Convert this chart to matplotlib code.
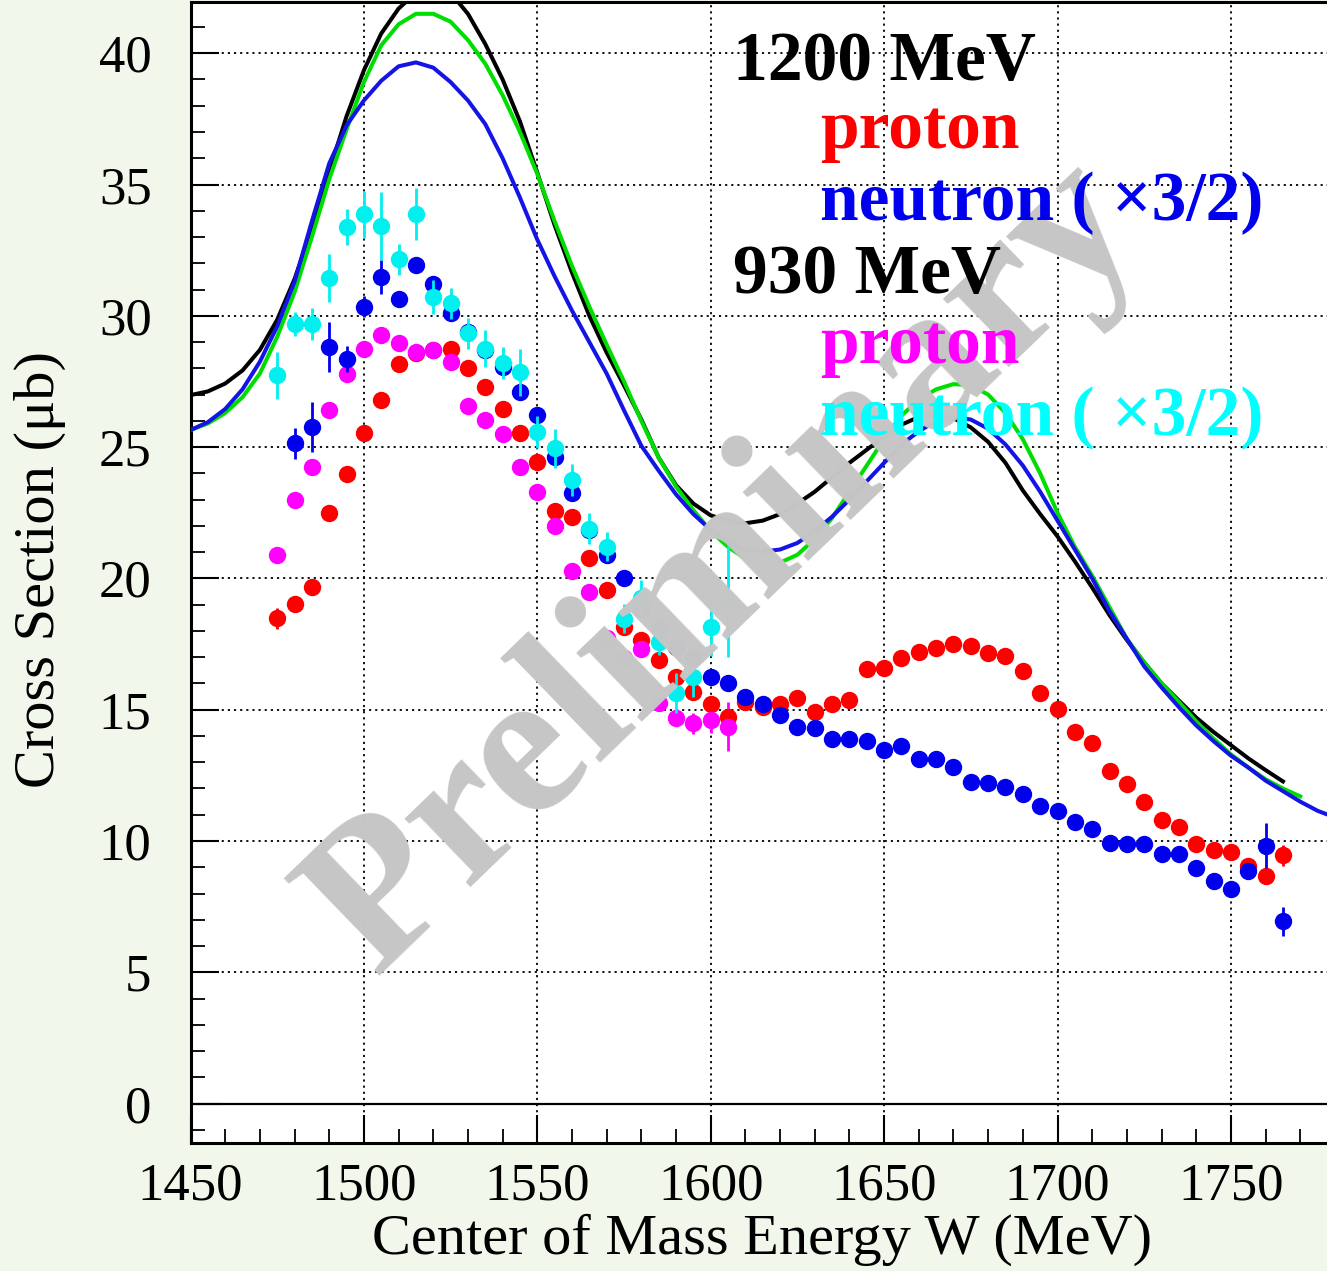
import matplotlib.pyplot as plt
import numpy as np

# ---- model curves (5 MeV steps starting at 1450 MeV) ----
curve_black = [26.98, 27.12, 27.42, 27.92, 28.7, 29.85, 31.4, 33.3, 35.5, 37.6,
               39.35, 40.75, 41.7, 42.3, 42.5, 42.3, 41.5, 40.35, 39.0, 37.4,
               35.45, 33.45, 31.65, 30.0, 28.6, 27.35, 26.05, 24.6, 23.55, 22.85,
               22.4, 22.2, 22.1, 22.2, 22.45, 22.85, 23.3, 23.85, 24.4, 24.9,
               25.4, 25.85, 26.15, 26.25, 26.1, 25.75, 25.2, 24.4, 23.35, 22.45,
               21.6, 20.65, 19.65, 18.6, 17.65, 16.8, 16.0, 15.35, 14.7, 14.15,
               13.65, 13.15, 12.7, 12.27]
curve_green = [25.65, 25.9, 26.3, 26.9, 27.8, 29.2, 30.9, 33.0, 35.2, 37.1,
               38.9, 40.3, 41.1, 41.5, 41.5, 41.2, 40.5, 39.6, 38.4, 37.0,
               35.4, 33.6, 31.9, 30.35, 28.9, 27.5, 26.0, 24.6, 23.5, 22.6,
               21.8, 21.2, 20.75, 20.6, 20.6, 20.9, 21.5, 22.3, 23.3, 24.3,
               25.3, 26.2, 26.8, 27.2, 27.4, 27.35, 27.0, 26.3, 25.3, 24.0,
               22.5, 21.2, 20.1, 18.9, 17.7, 16.8, 16.0, 15.3, 14.55, 13.9,
               13.3, 12.8, 12.35, 12.0, 11.7]
curve_blue = [25.65, 25.95, 26.45, 27.2, 28.25, 29.6, 31.3, 33.6, 35.8, 37.25,
              38.2, 38.95, 39.5, 39.65, 39.45, 38.9, 38.2, 37.3, 36.0, 34.5,
              32.9, 31.5, 30.2, 29.0, 27.8, 26.4, 25.05, 24.1, 23.2, 22.45,
              21.85, 21.4, 21.1, 21.02, 21.1, 21.35, 21.8, 22.35, 23.0, 23.7,
              24.4, 25.1, 25.6, 26.0, 26.15, 26.05, 25.7, 25.1, 24.3, 23.3,
              22.2, 21.1, 20.0, 18.75, 17.7, 16.65, 15.85, 15.1, 14.4, 13.8,
              13.25, 12.8, 12.3, 11.9, 11.5, 11.15, 10.9]

# ---- data points ----
# 1200 MeV proton (red), W from 1475
p1200 = [18.48, 19.03, 19.68, 22.48, 23.97, 25.55, 26.81, 28.15, 28.6, 28.7,
         28.73, 28.03, 27.27, 26.47, 25.52, 24.44, 22.56, 22.32, 20.76, 19.56,
         18.16, 17.66, 16.89, 16.26, 15.69, 15.22, 14.74, 15.3, 15.12, 15.22,
         15.46, 14.93, 15.22, 15.37, 16.55, 16.58, 16.97, 17.21, 17.35, 17.49,
         17.44, 17.15, 17.05, 16.49, 15.65, 15.02, 14.17, 13.75, 12.68, 12.16,
         11.47, 10.81, 10.53, 9.88, 9.67, 9.6, 9.03, 8.68, 9.45]
p1200_err = [0.4, 0.3, 0.25] + [0.15] * 55 + [0.4]

# 1200 MeV neutron x3/2 (blue), W from 1480
n1200 = [25.14, 25.77, 28.82, 28.35, 30.34, 31.48, 30.63, 31.93, 31.23, 30.09,
         29.4, 28.69, 28.06, 27.1, 26.22, 24.63, 23.24, 21.85, 20.89, 20.0,
         18.86, 18.1, 17.4, 17.02, 16.26, 16.01, 15.5, 15.21, 14.8, 14.33,
         14.3, 13.88, 13.88, 13.79, 13.47, 13.6, 13.13, 13.11, 12.8, 12.23,
         12.2, 12.05, 11.78, 11.35, 11.16, 10.72, 10.46, 9.92, 9.9, 9.9,
         9.51, 9.51, 8.97, 8.49, 8.17, 8.84, 9.82, 6.94]
n1200_err = [0.6, 0.95, 0.95, 0.5, 0.4, 0.65, 0.3, 0.3, 0.3, 0.3,
             0.3, 0.3, 0.3, 0.3, 0.3, 0.3, 0.3, 0.3, 0.2, 0.2] + [0.15] * 35 + [0.3, 0.85, 0.55]

# 930 MeV proton (magenta), W from 1475
p930 = [20.89, 22.98, 24.25, 26.41, 27.77, 28.73, 29.27, 28.96, 28.63, 28.71,
        28.23, 26.56, 26.04, 25.5, 24.24, 23.3, 21.99, 20.29, 19.49, 17.72,
        16.96, 17.3, 15.24, 14.7, 14.49, 14.61, 14.36]
p930_err = [0.3] + [0.2] * 22 + [0.3, 0.4, 0.5, 0.95]

# 930 MeV neutron x3/2 (cyan), W from 1475
n930 = [27.74, 29.68, 29.68, 31.44, 33.38, 33.87, 33.42, 32.15, 33.87, 30.7,
        30.47, 29.33, 28.75, 28.2, 27.85, 25.58, 24.95, 23.74, 21.9, 21.21,
        18.46, 19.24, 17.59, 15.63, 16.24, 18.14, 19.12]
n930_err = [0.9, 0.45, 0.6, 0.9, 0.7, 0.9, 1.3, 0.6, 1.0, 0.65,
            0.6, 0.6, 0.7, 0.6, 0.9, 0.6, 0.75, 0.6, 0.6, 0.55,
            0.55, 0.7, 0.5, 0.75, 0.75, 1.1, 2.1]


def wgrid(start, vals):
    return np.arange(start, start + 5 * len(vals), 5)


W_PX, H_PX = 1327, 1271
fig = plt.figure(figsize=(W_PX / 100, H_PX / 100), dpi=100)
fig.patch.set_facecolor('#f2f7ec')

# axes placed in pixel terms of the reference
x0, x1 = 190.5, 190.5 + 330 * 3.468
y_top, y_bot = 2, 1143
ax = fig.add_axes([x0 / W_PX, 1 - y_bot / H_PX, (x1 - x0) / W_PX, (y_bot - y_top) / H_PX])
ax.set_facecolor('white')
ax.set_xlim(1450, 1780)
ax.set_ylim(-1.5, 41.95)

serif = 'Liberation Serif'

# grid + zero line
ax.set_xticks(np.arange(1450, 1751, 50))
ax.set_yticks(np.arange(0, 41, 5))
ax.set_xticks(np.arange(1450, 1780, 10), minor=True)
ax.set_yticks(np.arange(-1, 42, 1), minor=True)
ax.grid(True, which='major', color='black', linestyle=(0, (1.2, 2.2)), linewidth=1.3)
ax.axhline(0, color='black', linewidth=1.6, zorder=1)

ax.tick_params(which='major', direction='in', length=20, width=1.5, labelsize=38)
ax.tick_params(which='minor', direction='in', length=10, width=1.3)
ax.tick_params(axis='x', pad=14)
ax.tick_params(axis='y', pad=28)
for lab in ax.get_xticklabels() + ax.get_yticklabels():
    lab.set_family(serif)
for sp in ax.spines.values():
    sp.set_linewidth(2.2)

# watermark
fig.text(726 / W_PX, 1 - 568 / H_PX, 'Preliminary', rotation=44, ha='center', va='center',
         fontsize=150, fontweight='bold', family=serif, color='#c6c6c6', zorder=0.5)

# model curves
ax.plot(wgrid(1450, curve_black), curve_black, color='black', lw=2.9, zorder=3,
        solid_joinstyle='round')
ax.plot(wgrid(1450, curve_green), curve_green, color='#00dd00', lw=2.9, zorder=3,
        solid_joinstyle='round')
ax.plot(wgrid(1450, curve_blue), curve_blue, color='#1414e6', lw=2.9, zorder=3,
        solid_joinstyle='round')

# data points
ms = 11.5
ax.errorbar(wgrid(1475, p1200), p1200, yerr=p1200_err, fmt='o', color='#ff0000', ms=ms,
            elinewidth=2, capsize=0, zorder=4)
ax.errorbar(wgrid(1475, p930), p930, yerr=p930_err, fmt='o', color='#ff00ff', ms=ms,
            elinewidth=2, capsize=0, zorder=4)
ax.errorbar(wgrid(1480, n1200), n1200, yerr=n1200_err, fmt='o', color='#0000ee', ms=ms,
            elinewidth=2, capsize=0, zorder=5)
ax.errorbar(wgrid(1475, n930), n930, yerr=n930_err, fmt='o', color='#00f0f0', ms=ms,
            elinewidth=2, capsize=0, zorder=6)

# legend-like labels
leg = [('1200 MeV', 'black', 733, 80),
       ('proton', '#ff0000', 820, 148),
       ('neutron ( \u00d73/2)', '#0000ee', 820, 220),
       ('930 MeV', 'black', 733, 293),
       ('proton', '#ff00ff', 820, 363),
       ('neutron ( \u00d73/2)', '#00ffff', 820, 435)]
for txt, col, px, py in leg:
    fig.text(px / W_PX, 1 - py / H_PX, txt, color=col, fontsize=50, fontweight='bold',
             family=serif, ha='left', va='baseline', zorder=7)

# axis labels
fig.text(762 / W_PX, 1 - 1240 / H_PX, 'Center of Mass Energy W (MeV)', ha='center', va='center',
         fontsize=42, family=serif)
fig.text(40 / W_PX, 1 - 570 / H_PX, 'Cross Section (\u03bcb)', rotation=90, ha='center',
         va='center', fontsize=42, family=serif)

fig.savefig('out.png', dpi=100, facecolor=fig.get_facecolor())
